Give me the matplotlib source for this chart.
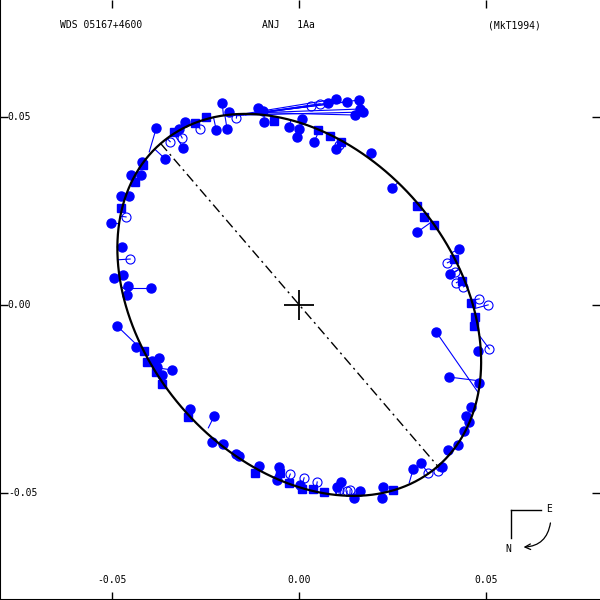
import numpy as np
import matplotlib
matplotlib.use('Agg')
import matplotlib.pyplot as plt
from matplotlib.patches import FancyArrowPatch

# orbit elements (circular orbit)
a_sec = 0.0567
incl = 137.2
node = 40.8

# observations (arcsec); x = east, y = -north
filled_x = [-0.0206, -0.0305, -0.0321, -0.0222, -0.0193, -0.0187, -0.0110, -0.0096, -0.0094, -0.0027,
            0.0000, -0.0005, 0.0008, 0.0040, 0.0099, 0.0193, 0.0249, 0.0316, 0.0428,
            -0.0310, -0.0358, -0.0420, -0.0449, -0.0422, -0.0476, -0.0455,
            -0.0503, -0.0473, -0.0471, -0.0495, -0.0457, -0.0460,
            -0.0436, -0.0393, -0.0374, -0.0380, -0.0366, -0.0291, -0.0233, -0.0203, -0.0168, -0.0160,
            -0.0107, -0.0053, -0.0059, 0.0003, 0.0102, 0.0112, 0.0163, 0.0147, 0.0222, 0.0225,
            0.0326, 0.0382, 0.0398, 0.0425, 0.0441, 0.0455, 0.0447, 0.0460, 0.0481, 0.0479, 0.0404]
filled_y = [0.0537, 0.0487, 0.0468, 0.0466, 0.0468, 0.0513, 0.0524, 0.0516, 0.0487, 0.0473,
            0.0468, 0.0447, 0.0495, 0.0434, 0.0415, 0.0404, 0.0311, 0.0194, 0.0149,
            0.0418, 0.0388, 0.0380, 0.0346, 0.0346, 0.0290, 0.0290,
            0.0218, 0.0154, 0.0080, 0.0072, 0.0051, 0.0027,
            -0.0112, -0.0149, -0.0141, -0.0165, -0.0186, -0.0277, -0.0364, -0.0370, -0.0396, -0.0402,
            -0.0428, -0.0431, -0.0466, -0.0479, -0.0484, -0.0471, -0.0495, -0.0513, -0.0513, -0.0484,
            -0.0420, -0.0431, -0.0386, -0.0372, -0.0335, -0.0311, -0.0295, -0.0271, -0.0207, -0.0122, 0.0082]

square_x = [-0.0334, -0.0278, -0.0249, -0.0067, 0.0051, 0.0083, 0.0112, 0.0316, 0.0334, 0.0361,
            0.0414, 0.0436, 0.0460, 0.0471, 0.0468, -0.0439, -0.0476, -0.0417,
            -0.0414, -0.0406, -0.0382, -0.0366, -0.0297, -0.0118, -0.0051, -0.0027, 0.0008, 0.0037,
            0.0067, 0.0251]
square_y = [0.0460, 0.0484, 0.0500, 0.0489, 0.0466, 0.0450, 0.0434, 0.0263, 0.0234, 0.0213,
            0.0122, 0.0064, 0.0005, -0.0032, -0.0056, 0.0327, 0.0258, 0.0372,
            -0.0122, -0.0152, -0.0178, -0.0210, -0.0298, -0.0447, -0.0447, -0.0473, -0.0489, -0.0489,
            -0.0497, -0.0492]

open_x = [-0.0168, -0.0265, -0.0313, -0.0345, 0.0107, -0.0463, -0.0452, 0.0396, 0.0417, 0.0420,
          0.0439, 0.0481, 0.0505, 0.0345, 0.0372, -0.0024, 0.0013, 0.0048, 0.0107, 0.0128, 0.0136]
open_y = [0.0497, 0.0468, 0.0444, 0.0434, 0.0426, 0.0234, 0.0122, 0.0112, 0.0088, 0.0059,
          0.0048, 0.0016, 0.0000, -0.0447, -0.0442, -0.0450, -0.0460, -0.0471, -0.0492, -0.0495, -0.0492]

# observations with large residuals: measured and predicted positions
far_x = [0.0078, 0.0099, 0.0128, 0.0160, 0.0163, 0.0150, 0.0171,
         -0.0382, -0.0396, -0.0487, -0.0340, -0.0227, 0.0305, 0.0401, 0.0366]
far_y = [0.0537, 0.0548, 0.0540, 0.0545, 0.0521, 0.0505, 0.0513,
         0.0471, 0.0045, -0.0056, -0.0173, -0.0295, -0.0436, -0.0192, -0.0072]
far_px = [-0.0158, -0.0179, -0.0131, -0.0166, -0.0110, -0.0091, -0.0144,
          -0.0401, -0.0471, -0.0420, -0.0377, -0.0243, 0.0294, 0.0481, 0.0479]
far_py = [0.0505, 0.0503, 0.0508, 0.0503, 0.0511, 0.0511, 0.0505,
          0.0407, 0.0045, -0.0120, -0.0168, -0.0327, -0.0473, -0.0202, -0.0234]
far_open_x = [0.0032, 0.0056, 0.0508]
far_open_y = [0.0529, 0.0535, -0.0117]
far_open_px = [-0.0150, -0.0120, 0.0484]
far_open_py = [0.0505, 0.0509, -0.0085]

xticks = [-0.05, 0.0, 0.05]
xlabels = ['-0.05', '0.00', '0.05']
yticks = [0.05, 0.0, -0.05]
ylabels = ['0.05', '0.00', '-0.05']

BLUE = '#0000ff'
MONO = 'DejaVu Sans Mono'

# apparent orbit
u = np.linspace(0, 2 * np.pi, 721)
om = np.radians(node)
ci = np.cos(np.radians(incl))
east = a_sec * (np.cos(u) * np.sin(om) + np.sin(u) * ci * np.cos(om))
north = a_sec * (np.cos(u) * np.cos(om) - np.sin(u) * ci * np.sin(om))
ox, oy = east, -north

fig = plt.figure(figsize=(6, 6), dpi=100)
ax = fig.add_axes([0, 0, 1, 1])
ax.set_xlim(-0.0800, 0.0804)
ax.set_ylim(-0.0785, 0.0811)

# residual lines to the nearest orbit point
for xs, ys in [(filled_x, filled_y), (square_x, square_y), (open_x, open_y)]:
    for x, y in zip(xs, ys):
        k = np.argmin((ox - x) ** 2 + (oy - y) ** 2)
        ax.plot([x, ox[k]], [y, oy[k]], color=BLUE, lw=0.8, zorder=2)
for x, y, px, py in zip(far_x + far_open_x, far_y + far_open_y, far_px + far_open_px, far_py + far_open_py):
    ax.plot([x, px], [y, py], color=BLUE, lw=0.8, zorder=2)

ax.plot(filled_x + far_x, filled_y + far_y, 'o', color=BLUE, ms=6.5, mec=BLUE, zorder=3)
ax.plot(square_x, square_y, 's', color=BLUE, ms=5.5, mec=BLUE, zorder=3)
ax.plot(open_x + far_open_x, open_y + far_open_y, 'o', mfc='none', mec=BLUE, mew=0.8, ms=6.5, zorder=3)

ax.plot(ox, oy, color='black', lw=1.6, zorder=4)

# line of nodes
nx_ = a_sec * np.sin(om)
ny_ = a_sec * np.cos(om)
ax.plot([-nx_, nx_], [ny_, -ny_], color='black', lw=1.0, dashes=(7, 3, 1.5, 3), zorder=4)

# primary
ax.plot([0], [0], marker='+', color='black', ms=22, mew=1.3, zorder=5)

ax.set_xticks(xticks)
ax.set_yticks(yticks)
ax.tick_params(direction='in', length=6, width=1, top=True, right=True,
               labelbottom=False, labelleft=False)
for s in ['top', 'right']:
    ax.spines[s].set_visible(False)
for s in ['left', 'bottom']:
    ax.spines[s].set_linewidth(1.5)

for t, lab in zip(xticks, xlabels):
    ax.text(t, 0.033, lab, transform=ax.get_xaxis_transform(), ha='center', va='center',
            fontsize=7, family=MONO)
for t, lab in zip(yticks, ylabels):
    ax.text(0.013, t, lab, transform=ax.get_yaxis_transform(), ha='left', va='center',
            fontsize=7, family=MONO)

ax.text(0.100, 0.958, 'WDS 05167+4600', transform=ax.transAxes, ha='left', va='center', fontsize=7, family=MONO)
ax.text(0.437, 0.958, 'ANJ   1Aa', transform=ax.transAxes, ha='left', va='center', fontsize=7, family=MONO)
ax.text(0.813, 0.958, '(MkT1994)', transform=ax.transAxes, ha='left', va='center', fontsize=7, family=MONO)

# orientation
ax.plot([0.852, 0.902], [0.150, 0.150], color='black', lw=1, transform=ax.transAxes)
ax.plot([0.852, 0.852], [0.150, 0.103], color='black', lw=1, transform=ax.transAxes)
ax.text(0.915, 0.152, 'E', transform=ax.transAxes, ha='center', va='center', fontsize=7, family=MONO)
ax.text(0.847, 0.085, 'N', transform=ax.transAxes, ha='center', va='center', fontsize=7, family=MONO)
arr = FancyArrowPatch((0.918, 0.133), (0.868, 0.088), transform=ax.transAxes,
                      connectionstyle='arc3,rad=-0.45', arrowstyle='->,head_length=4,head_width=2',
                      color='black', lw=0.9)
ax.add_patch(arr)

fig.savefig('out.png', dpi=100)
